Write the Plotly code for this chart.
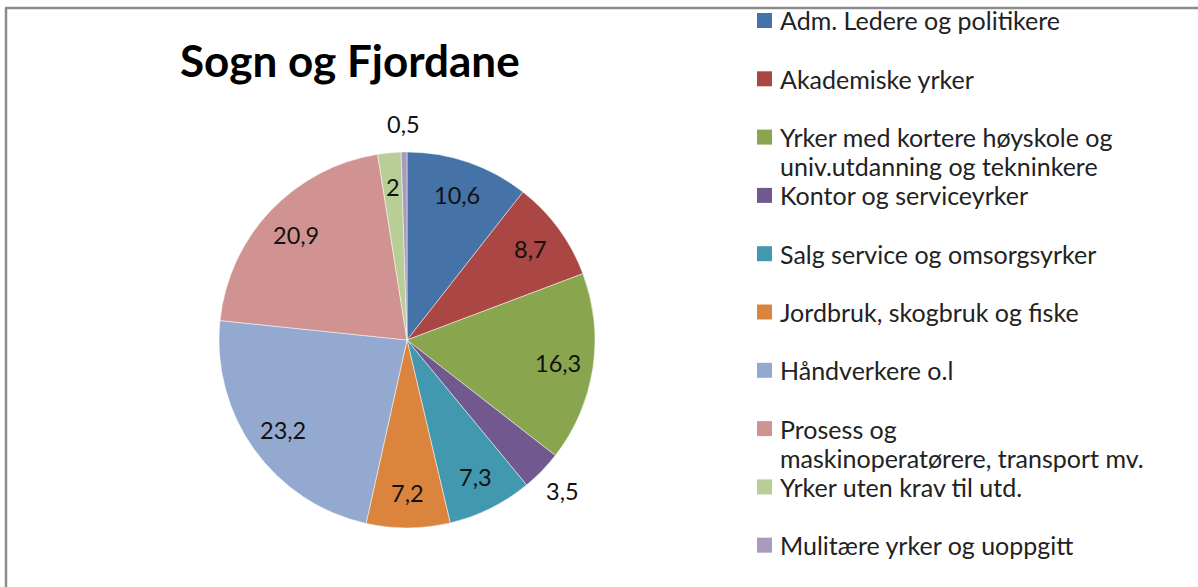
import math
import plotly.graph_objects as go

# ---- data ----
categories = [
    "Adm. Ledere og politikere",
    "Akademiske yrker",
    "Yrker med kortere høyskole og\nuniv.utdanning og tekninkere",
    "Kontor og serviceyrker",
    "Salg service og omsorgsyrker",
    "Jordbruk, skogbruk og fiske",
    "Håndverkere o.l",
    "Prosess og\nmaskinoperatørere, transport mv.",
    "Yrker uten krav til utd.",
    "Mulitære yrker og uoppgitt",
]
values = [10.6, 8.7, 16.3, 3.5, 7.3, 7.2, 23.2, 20.9, 2, 0.5]
title_text = "Sogn og Fjordane"

# ---- style ----
colors = ["#4572A7", "#AA4643", "#89A54E", "#71588F", "#4198AF",
          "#DB843D", "#93A9CF", "#D19392", "#B9CD96", "#A99BBD"]
W, H = 1198, 587
FONT = "Lato"
cx, cy, r = 407, 340, 188          # pie centre / radius in pixels
outside_idx = {3, 9}               # labels drawn outside the pie
inside_frac, outside_frac = 0.815, 1.15


def px(x):
    return x / W


def py(y):
    return 1 - y / H


fig = go.Figure()
fig.add_trace(go.Pie(
    labels=[c.replace("\n", " ") for c in categories],
    values=values,
    sort=False,
    direction="clockwise",
    rotation=0,
    marker=dict(colors=colors, line=dict(color="rgba(255,255,255,0.6)", width=0.8)),
    textinfo="none",
    hoverinfo="label+value",
    domain=dict(x=[px(cx - r), px(cx + r)], y=[py(cy + r), py(cy - r)]),
    showlegend=False,
))

annotations = []
shapes = []

# data labels
total = sum(values)
cum = 0.0
for i, v in enumerate(values):
    theta = 2 * math.pi * (cum + v / 2) / total
    cum += v
    d = r * (outside_frac if i in outside_idx else inside_frac)
    lx = cx + d * math.sin(theta)
    ly = cy - d * math.cos(theta)
    annotations.append(dict(
        x=px(lx), y=py(ly), xref="paper", yref="paper",
        text=f"{v:g}".replace(".", ","), showarrow=False,
        xanchor="center", yanchor="middle",
        font=dict(family=FONT, size=23.5, color="#111111"),
    ))

# title
annotations.append(dict(
    x=px(350), y=py(60), xref="paper", yref="paper", text=f"<b>{title_text}</b>",
    showarrow=False, xanchor="center", yanchor="middle",
    font=dict(family=FONT, size=44, color="#000000"),
))

# legend (Excel-style, fixed spacing)
leg_x0, leg_y0, leg_dy, line_dy, sq = 757, 20.5, 58.3, 29, 15
for i, (c, col) in enumerate(zip(categories, colors)):
    yc = leg_y0 + i * leg_dy
    shapes.append(dict(type="rect", xref="paper", yref="paper",
                       x0=px(leg_x0), x1=px(leg_x0 + sq),
                       y0=py(yc + sq / 2), y1=py(yc - sq / 2),
                       fillcolor=col, line=dict(width=0)))
    for j, line in enumerate(c.split("\n")):
        annotations.append(dict(
            x=px(leg_x0 + 21), y=py(yc + j * line_dy), xref="paper", yref="paper",
            text=line, showarrow=False, xanchor="left", yanchor="middle",
            font=dict(family=FONT, size=25, color="#222222"),
        ))

# chart frame (top and left edges visible)
shapes.append(dict(type="line", xref="paper", yref="paper",
                   x0=px(5), x1=px(W), y0=py(8), y1=py(8),
                   line=dict(color="#8c8c8c", width=2.5)))
shapes.append(dict(type="line", xref="paper", yref="paper",
                   x0=px(6), x1=px(6), y0=py(8), y1=py(H),
                   line=dict(color="#8c8c8c", width=2.5)))

fig.update_layout(
    width=W, height=H,
    margin=dict(l=0, r=0, t=0, b=0),
    paper_bgcolor="white", plot_bgcolor="white",
    annotations=annotations, shapes=shapes,
    showlegend=False,
)

fig.write_html(
    "out.html",
    config={"displayModeBar": False},
    post_script="document.body.style.margin='0';document.body.style.overflow='hidden';",
)
